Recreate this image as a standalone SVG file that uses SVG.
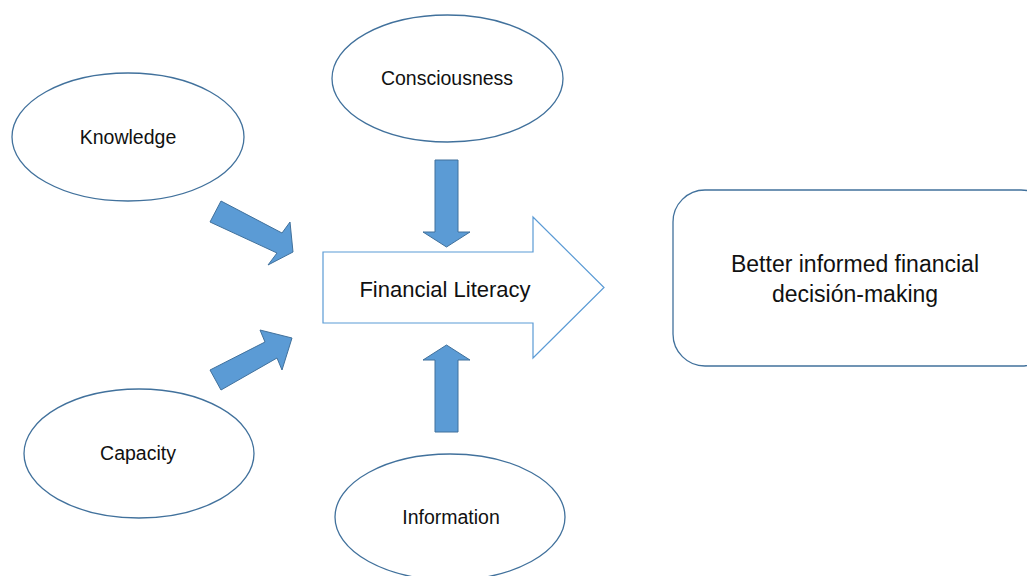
<svg xmlns="http://www.w3.org/2000/svg" width="1027" height="576" viewBox="0 0 1027 576">
  <style>
    .oval { fill: #ffffff; stroke: #41719c; stroke-width: 1.3; }
    .lbl { font-family: "Liberation Sans", Arial, sans-serif; font-size: 19.5px; fill: #111111; text-anchor: middle; }
    .big { font-size: 22px; }
    .goal-txt { font-size: 23px; }
    .feed { fill: #5b9bd5; stroke: #41719c; stroke-width: 1; stroke-linejoin: miter; }
    .core { fill: #ffffff; stroke: #5b9bd5; stroke-width: 1.2; }
    .goal { fill: #ffffff; stroke: #41719c; stroke-width: 1.3; }
  </style>
  <rect width="1027" height="576" fill="#ffffff"/>

  <g id="connectors">
    <!-- Knowledge -> Financial Literacy -->
    <polygon class="feed" points="221,201 282,233 290,222 293,252 268,265 277,253 210,222"/>
    <!-- Capacity -> Financial Literacy -->
    <polygon class="feed" points="221,390 277,358 282,370 292,338 260,330 265,342 210,370"/>
    <!-- Consciousness -> Financial Literacy -->
    <polygon class="feed" points="435,160 458,160 458,232 470,232 446.5,247 423,232 435,232"/>
    <!-- Information -> Financial Literacy -->
    <polygon class="feed" points="435,432 458,432 458,360 470,360 446.5,345 423,360 435,360"/>
  </g>

  <g id="consciousness">
    <ellipse class="oval" cx="447.5" cy="78.5" rx="115.5" ry="63.5"/>
    <text class="lbl" x="447" y="85">Consciousness</text>
  </g>

  <g id="knowledge">
    <ellipse class="oval" cx="128" cy="137" rx="116" ry="64"/>
    <text class="lbl" x="128" y="144">Knowledge</text>
  </g>

  <g id="capacity">
    <ellipse class="oval" cx="139" cy="453.5" rx="115" ry="64.5"/>
    <text class="lbl" x="138" y="460">Capacity</text>
  </g>

  <g id="information">
    <ellipse class="oval" cx="450" cy="517" rx="115" ry="63"/>
    <text class="lbl" x="451" y="524">Information</text>
  </g>

  <g id="financial-literacy">
    <polygon class="core" points="323,252 533,252 533,217 604,287.5 533,358 533,323 323,323"/>
    <text class="lbl big" x="445" y="297">Financial Literacy</text>
  </g>

  <g id="decision-making">
    <rect class="goal" x="673" y="190" width="380" height="176" rx="32" ry="32"/>
    <text class="lbl goal-txt" x="855" y="272">Better informed financial</text>
    <text class="lbl goal-txt" x="855" y="302">decisión-making</text>
  </g>
</svg>
